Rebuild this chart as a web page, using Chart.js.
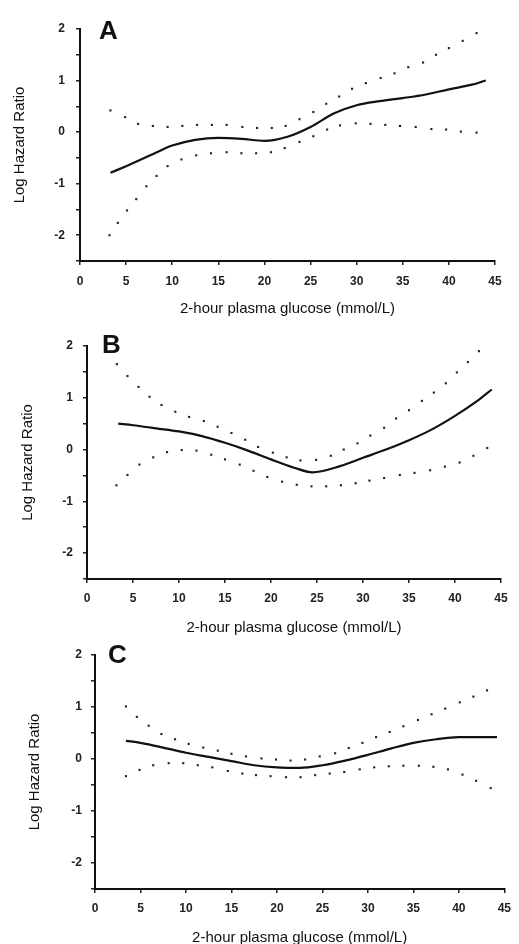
<!DOCTYPE html>
<html>
<head>
<meta charset="utf-8">
<script src="https://cdn.jsdelivr.net/npm/chart.js@4"></script>
<style>
  body { margin: 0; background: #fff; width: 519px; height: 944px; overflow: hidden; position: relative; }
  canvas { position: absolute; left: 0; }
</style>
</head>
<body>
<canvas id="panelA" width="519" height="318" style="top:0px"></canvas>
<canvas id="panelB" width="519" height="319" style="top:318px"></canvas>
<canvas id="panelC" width="519" height="310" style="top:637px"></canvas>
<script>
// panel A
const aFitX = [3.3, 5, 7.5, 10, 12.5, 15, 17.5, 20, 22.5, 25, 27.5, 30, 32.5, 35, 37.5, 40, 42.5, 44];
const aFitY = [-0.79, -0.66, -0.46, -0.26, -0.15, -0.11, -0.13, -0.17, -0.09, 0.10, 0.36, 0.52, 0.60, 0.66, 0.73, 0.83, 0.92, 1.00];
const aUpX = [3.3, 4.9, 6.3, 7.9, 9.5, 11.1, 12.7, 14.3, 15.9, 17.6, 19.2, 20.8, 22.3, 23.8, 25.3, 26.7, 28.1, 29.5, 31.0, 32.6, 34.1, 35.6, 37.2, 38.6, 40.0, 41.5, 43.0];
const aUpY = [0.42, 0.29, 0.16, 0.12, 0.10, 0.12, 0.14, 0.14, 0.14, 0.10, 0.08, 0.08, 0.12, 0.25, 0.39, 0.55, 0.69, 0.84, 0.95, 1.05, 1.14, 1.26, 1.35, 1.50, 1.63, 1.77, 1.92];
const aLoX = [3.2, 4.1, 5.1, 6.1, 7.2, 8.3, 9.5, 11.0, 12.6, 14.2, 15.9, 17.5, 19.1, 20.7, 22.2, 23.8, 25.3, 26.8, 28.2, 29.9, 31.5, 33.1, 34.7, 36.4, 38.1, 39.7, 41.3, 43.0];
const aLoY = [-2.0, -1.76, -1.52, -1.30, -1.05, -0.85, -0.66, -0.53, -0.45, -0.41, -0.39, -0.41, -0.41, -0.39, -0.31, -0.19, -0.08, 0.05, 0.13, 0.17, 0.16, 0.14, 0.12, 0.10, 0.06, 0.05, 0.01, -0.01];

// panel B
const bFitX = [3.4, 5, 7.5, 10, 12.5, 15, 17.5, 20, 22.5, 24.5, 27.5, 30, 32.5, 35, 37.5, 40, 42.5, 44];
const bFitY = [0.50, 0.47, 0.41, 0.35, 0.26, 0.13, -0.02, -0.19, -0.35, -0.44, -0.32, -0.16, 0.00, 0.18, 0.39, 0.65, 0.95, 1.16];
const bUpX = [3.25, 4.4, 5.6, 6.8, 8.1, 9.6, 11.1, 12.7, 14.2, 15.7, 17.2, 18.6, 20.2, 21.7, 23.2, 24.9, 26.5, 27.9, 29.4, 30.8, 32.3, 33.6, 35.0, 36.4, 37.7, 39.0, 40.2, 41.4, 42.6, 43.8];
const bUpY = [1.65, 1.42, 1.21, 1.02, 0.86, 0.73, 0.63, 0.55, 0.44, 0.32, 0.19, 0.05, -0.06, -0.15, -0.21, -0.20, -0.12, 0.0, 0.12, 0.27, 0.42, 0.60, 0.76, 0.94, 1.10, 1.28, 1.49, 1.69, 1.90, 2.11];
const bLoX = [3.2, 4.4, 5.7, 7.2, 8.7, 10.3, 11.9, 13.5, 15.0, 16.6, 18.1, 19.6, 21.2, 22.8, 24.4, 26.0, 27.6, 29.2, 30.7, 32.3, 34.0, 35.6, 37.3, 38.9, 40.5, 42.0, 43.5];
const bLoY = [-0.69, -0.49, -0.29, -0.15, -0.05, -0.01, -0.02, -0.10, -0.19, -0.29, -0.41, -0.53, -0.62, -0.68, -0.71, -0.71, -0.69, -0.65, -0.60, -0.55, -0.49, -0.45, -0.40, -0.33, -0.25, -0.12, 0.03];

// panel C
const cFitX = [3.4, 5, 7.5, 10, 12.5, 15, 17.5, 20, 22.5, 25, 27.5, 30, 32.5, 35, 37.5, 40, 42.5, 44.2];
const cFitY = [0.35, 0.31, 0.22, 0.12, 0.04, -0.04, -0.12, -0.16, -0.17, -0.12, -0.03, 0.08, 0.20, 0.31, 0.38, 0.42, 0.42, 0.42];
const cUpX = [3.4, 4.6, 5.9, 7.3, 8.8, 10.3, 11.9, 13.5, 15.0, 16.6, 18.3, 19.9, 21.5, 23.1, 24.7, 26.4, 27.9, 29.4, 30.9, 32.4, 33.9, 35.5, 37.0, 38.5, 40.1, 41.6, 43.1];
const cUpY = [1.01, 0.81, 0.64, 0.48, 0.38, 0.29, 0.22, 0.16, 0.10, 0.05, 0.01, -0.01, -0.03, -0.01, 0.05, 0.11, 0.21, 0.31, 0.42, 0.52, 0.63, 0.75, 0.86, 0.97, 1.09, 1.20, 1.32];
const cLoX = [3.4, 4.9, 6.4, 8.1, 9.7, 11.3, 12.9, 14.6, 16.2, 17.7, 19.3, 21.0, 22.6, 24.2, 25.8, 27.4, 29.1, 30.7, 32.3, 33.9, 35.6, 37.2, 38.8, 40.4, 41.9, 43.5];
const cLoY = [-0.33, -0.21, -0.12, -0.08, -0.08, -0.12, -0.16, -0.23, -0.28, -0.31, -0.33, -0.35, -0.35, -0.31, -0.28, -0.25, -0.20, -0.16, -0.14, -0.13, -0.13, -0.15, -0.20, -0.30, -0.42, -0.56];

const xTitle = "2-hour plasma glucose (mmol/L)";
const yTitle = "Log Hazard Ratio";

function zip(xs, ys) {
  return xs.map((x, i) => ({ x: x, y: ys[i] }));
}

// draws the big panel letter
const panelLetter = {
  id: "panelLetter",
  afterDraw(chart, args, opts) {
    const ctx = chart.ctx;
    ctx.save();
    ctx.font = 'bold 26px "Liberation Sans"';
    ctx.fillStyle = "#111";
    ctx.textBaseline = "alphabetic";
    ctx.fillText(opts.text, opts.x, opts.y);
    ctx.restore();
  }
};

const tickFont = { family: '"Liberation Sans"', size: 12, weight: "bold" };
const titleFont = { family: '"Liberation Sans"', size: 15, weight: "normal" };

function makePanel(id, fitX, fitY, upX, upY, loX, loY, g) {
  const dots = {
    showLine: false,
    pointStyle: "rect",
    pointRadius: 1.5,
    pointBackgroundColor: "#222",
    pointBorderWidth: 0,
    clip: false
  };
  return new Chart(document.getElementById(id), {
    type: "scatter",
    data: {
      datasets: [
        {
          data: zip(fitX, fitY),
          showLine: true,
          borderColor: "#111",
          borderWidth: 2.2,
          pointRadius: 0,
          cubicInterpolationMode: "monotone",
          clip: false
        },
        Object.assign({ data: zip(upX, upY) }, dots),
        Object.assign({ data: zip(loX, loY) }, dots)
      ]
    },
    options: {
      responsive: false,
      animation: false,
      layout: { padding: { top: g.top, right: g.right, left: 0, bottom: 0 } },
      plugins: {
        legend: { display: false },
        tooltip: { enabled: false },
        panelLetter: g.letter
      },
      scales: {
        x: {
          type: "linear",
          min: 0,
          max: 45,
          afterFit: (s) => { s.height = g.xh; },
          border: { display: true, color: "#111", width: 2 },
          grid: { drawOnChartArea: false, drawTicks: true, tickLength: 4, color: "#222", lineWidth: 1.5 },
          ticks: { stepSize: 5, padding: g.xpad, color: "#222", font: tickFont, maxRotation: 0 },
          title: { display: true, text: xTitle, color: "#111", font: titleFont, padding: { top: 0, bottom: 0 } }
        },
        y: {
          min: -2.5,
          max: 2,
          afterFit: (s) => { s.width = g.yw; },
          border: { display: true, color: "#111", width: 2 },
          grid: { drawOnChartArea: false, drawTicks: true, tickLength: 4, color: "#222", lineWidth: 1.5 },
          ticks: {
            stepSize: 0.5,
            padding: g.ypad,
            color: "#222",
            font: tickFont,
            callback: (v) => (Number.isInteger(v) && v >= -2 ? String(v) : "")
          },
          title: { display: true, text: yTitle, color: "#111", font: titleFont, padding: { top: g.ytp, bottom: 0 } }
        }
      }
    },
    plugins: [panelLetter]
  });
}

makePanel("panelA", aFitX, aFitY, aUpX, aUpY, aLoX, aLoY,
  { top: 29, right: 24, yw: 80, xh: 57, xpad: 9, ypad: 11, ytp: 11, letter: { text: "A", x: 99, y: 39 } });
makePanel("panelB", bFitX, bFitY, bUpX, bUpY, bLoX, bLoY,
  { top: 28, right: 18, yw: 87, xh: 58, xpad: 8, ypad: 10, ytp: 19, letter: { text: "B", x: 102, y: 35 } });
makePanel("panelC", cFitX, cFitY, cUpX, cUpY, cLoX, cLoY,
  { top: 18, right: 11, yw: 95, xh: 58, xpad: 8, ypad: 9, ytp: 26, letter: { text: "C", x: 108, y: 26 } });
</script>
</body>
</html>
